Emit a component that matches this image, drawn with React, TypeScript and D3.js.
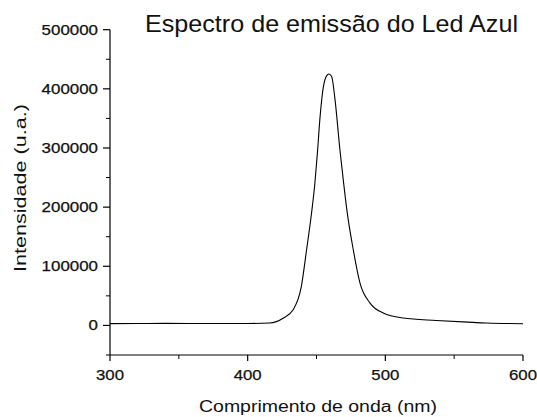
import React, { useEffect, useRef } from 'react';
import * as d3 from 'd3';

// Spectrum (nm, counts)
const wavelengths = [
  300, 320, 340, 360, 380, 400, 416, 426, 433, 439, 442.8, 446.4, 448.8, 450.6, 452.5,
  454.9, 457.3, 459, 461, 463.4, 467, 469.5, 471.9, 476.7, 481.6, 488.9, 498.5, 513,
  537, 560, 573.6, 600,
];
const intensities = [
  3000, 3200, 3500, 3300, 3200, 3300, 4000, 12500, 26500, 66000, 128000, 190000,
  240000, 290000, 350000, 402000, 422000, 425000, 421000, 383000, 297000, 245000,
  198000, 128000, 71600, 37800, 21000, 12500, 8400, 5500, 4000, 2900,
];

const xTicks = [300, 400, 500, 600];
const xMinorTicks = [350, 450, 550];
const yTicks = [0, 100000, 200000, 300000, 400000, 500000];
const yMinorTicks = [-50000, 50000, 150000, 250000, 350000, 450000];

const title = 'Espectro de emissão do Led Azul';
const xLabel = 'Comprimento de onda (nm)';
const yLabel = 'Intensidade (u.a.)';

const W = 537;
const H = 417;
const FONT = '"Liberation Sans", Arial, sans-serif';

const App = () => {
  const ref = useRef<SVGSVGElement | null>(null);

  useEffect(() => {
    if (!ref.current) return;
    const svg = d3.select(ref.current);
    svg.selectAll('*').remove();

    const x = d3.scaleLinear().domain([300, 600]).range([110, 523]);
    const y = d3.scaleLinear().domain([-50000, 500000]).range([355, 29.7]);

    // y axis
    const gy = svg.append('g').attr('transform', `translate(${x(300)},0)`);
    gy.append('line')
      .attr('y1', y(500000))
      .attr('y2', y(-50000))
      .attr('stroke', '#000')
      .attr('stroke-width', 1.2);
    gy.selectAll('line.major')
      .data(yTicks)
      .enter()
      .append('line')
      .attr('class', 'major')
      .attr('x1', -7)
      .attr('x2', 0)
      .attr('y1', d => y(d))
      .attr('y2', d => y(d))
      .attr('stroke', '#000')
      .attr('stroke-width', 1.2);
    gy.selectAll('line.minor')
      .data(yMinorTicks)
      .enter()
      .append('line')
      .attr('class', 'minor')
      .attr('x1', -4)
      .attr('x2', 0)
      .attr('y1', d => y(d))
      .attr('y2', d => y(d))
      .attr('stroke', '#000')
      .attr('stroke-width', 1);
    gy.selectAll('text')
      .data(yTicks)
      .enter()
      .append('text')
      .attr('x', -12)
      .attr('y', d => y(d) + 5)
      .attr('text-anchor', 'end')
      .attr('font-family', FONT)
      .attr('font-size', 14)
      .attr('textLength', d => String(d).length * 9.4)
      .attr('lengthAdjust', 'spacingAndGlyphs')
      .attr('fill', '#111')
      .attr('stroke', '#111')
      .attr('stroke-width', 0.25)
      .text(d => String(d));

    // x axis
    const gx = svg.append('g').attr('transform', `translate(0,${y(-50000)})`);
    gx.append('line')
      .attr('x1', x(300))
      .attr('x2', x(600))
      .attr('stroke', '#000')
      .attr('stroke-width', 1.2);
    gx.selectAll('line.major')
      .data(xTicks)
      .enter()
      .append('line')
      .attr('class', 'major')
      .attr('x1', d => x(d))
      .attr('x2', d => x(d))
      .attr('y1', 0)
      .attr('y2', 6)
      .attr('stroke', '#000')
      .attr('stroke-width', 1.2);
    gx.selectAll('line.minor')
      .data(xMinorTicks)
      .enter()
      .append('line')
      .attr('class', 'minor')
      .attr('x1', d => x(d))
      .attr('x2', d => x(d))
      .attr('y1', 0)
      .attr('y2', 4)
      .attr('stroke', '#000')
      .attr('stroke-width', 1);
    gx.selectAll('text')
      .data(xTicks)
      .enter()
      .append('text')
      .attr('x', d => x(d))
      .attr('y', 24.5)
      .attr('text-anchor', 'middle')
      .attr('font-family', FONT)
      .attr('font-size', 15)
      .attr('textLength', 28)
      .attr('lengthAdjust', 'spacingAndGlyphs')
      .attr('fill', '#111')
      .attr('stroke', '#111')
      .attr('stroke-width', 0.25)
      .text(d => String(d));

    // spectrum
    const pts = wavelengths.map((w, i) => [w, intensities[i]] as [number, number]);
    const line = d3
      .line<[number, number]>()
      .x(d => x(d[0]))
      .y(d => y(d[1]))
      .curve(d3.curveMonotoneX);
    svg
      .append('path')
      .datum(pts)
      .attr('fill', 'none')
      .attr('stroke', '#000')
      .attr('stroke-width', 1.1)
      .attr('d', line);

    // title and axis labels
    svg
      .append('text')
      .attr('x', 145)
      .attr('y', 32)
      .attr('font-family', FONT)
      .attr('font-size', 24)
      .attr('textLength', 373)
      .attr('lengthAdjust', 'spacingAndGlyphs')
      .attr('fill', '#111')
      .text(title);

    svg
      .append('text')
      .attr('x', 318)
      .attr('y', 412)
      .attr('text-anchor', 'middle')
      .attr('font-family', FONT)
      .attr('font-size', 16)
      .attr('textLength', 238)
      .attr('lengthAdjust', 'spacingAndGlyphs')
      .attr('fill', '#111')
      .text(xLabel);

    svg
      .append('text')
      .attr('transform', `translate(25.5,188) rotate(-90)`)
      .attr('text-anchor', 'middle')
      .attr('font-family', FONT)
      .attr('font-size', 17)
      .attr('textLength', 168)
      .attr('lengthAdjust', 'spacingAndGlyphs')
      .attr('fill', '#111')
      .text(yLabel);
  }, []);

  return (
    <svg
      ref={ref}
      width={W}
      height={H}
      style={{ position: 'absolute', left: 0, top: 0, background: '#fff' }}
    />
  );
};

export default App;
